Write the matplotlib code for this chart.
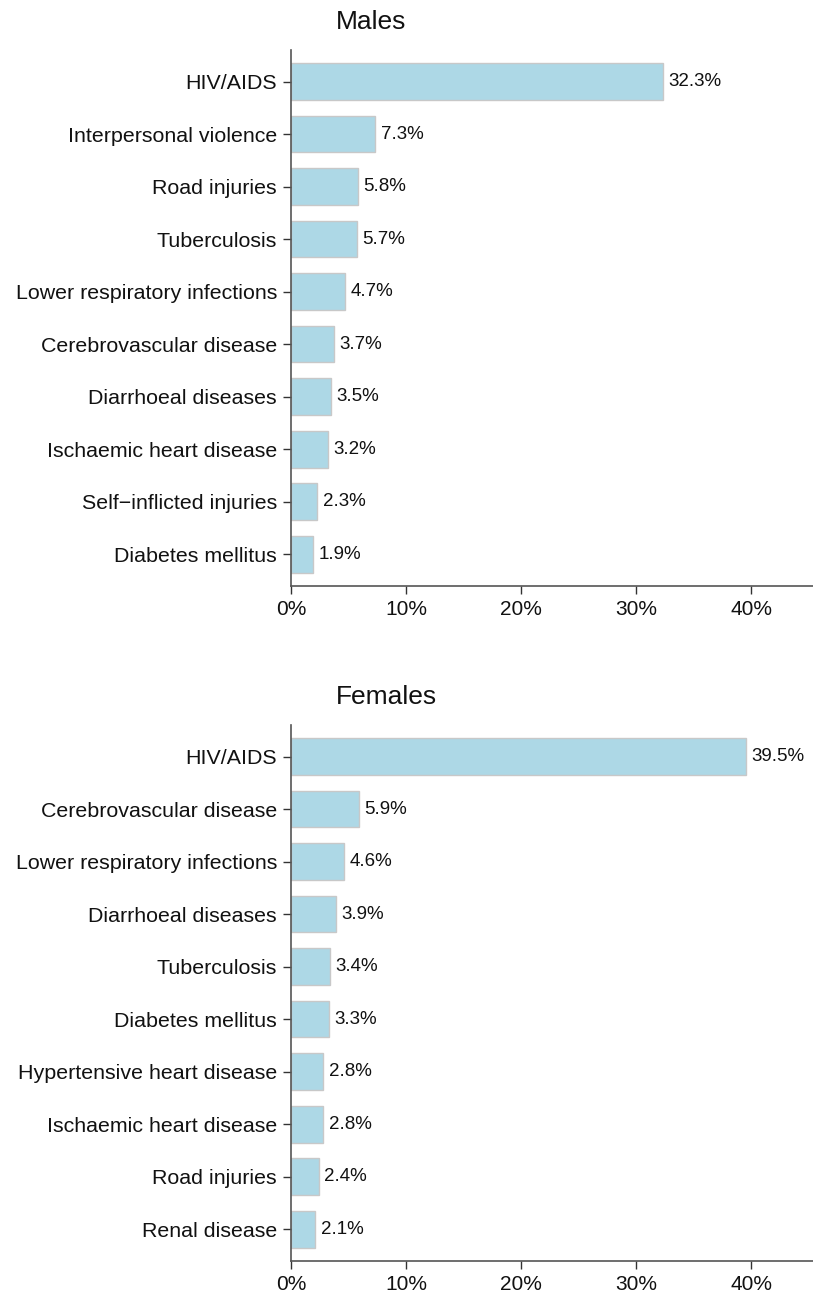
import matplotlib
matplotlib.use('Agg')
import matplotlib.pyplot as plt
from matplotlib.ticker import FuncFormatter

plt.rcParams['font.family'] = ['Liberation Sans', 'DejaVu Sans']

# data
male_causes = ['HIV/AIDS', 'Interpersonal violence', 'Road injuries', 'Tuberculosis',
               'Lower respiratory infections', 'Cerebrovascular disease',
               'Diarrhoeal diseases', 'Ischaemic heart disease',
               'Self\u2212inflicted injuries', 'Diabetes mellitus']
male_pct = [32.3, 7.3, 5.8, 5.7, 4.7, 3.7, 3.5, 3.2, 2.3, 1.9]

female_causes = ['HIV/AIDS', 'Cerebrovascular disease', 'Lower respiratory infections',
                 'Diarrhoeal diseases', 'Tuberculosis', 'Diabetes mellitus',
                 'Hypertensive heart disease', 'Ischaemic heart disease',
                 'Road injuries', 'Renal disease']
female_pct = [39.5, 5.9, 4.6, 3.9, 3.4, 3.3, 2.8, 2.8, 2.4, 2.1]

x_ticks = [0, 10, 20, 30, 40]

W, H = 813, 1294
fig = plt.figure(figsize=(W / 100, H / 100), dpi=100)


def draw_panel(rect, title, title_y, causes, values):
    ax = fig.add_axes(rect)
    pos = list(range(len(causes)))
    ax.barh(pos, values, height=0.7, color='#ADD8E6', edgecolor='#C8C8C8', linewidth=1)
    for p, v in zip(pos, values):
        ax.annotate(f'{v:.1f}%', (v, p), xytext=(4, 0), textcoords='offset points',
                    ha='left', va='center', fontsize=13.5, color='#111111')
    ax.set_yticks(pos)
    ax.set_yticklabels(causes, fontsize=15.4, color='#111111')
    ax.set_ylim(len(causes) - 0.4, -0.6)
    ax.set_xlim(0, 45.35)
    ax.set_xticks(x_ticks)
    ax.xaxis.set_major_formatter(FuncFormatter(lambda v, _: f'{v:.0f}%'))
    ax.tick_params(axis='x', labelsize=15, labelcolor='#111111', length=6, width=1,
                   color='#333333', pad=4)
    ax.tick_params(axis='y', length=6, width=1, color='#333333', pad=4)
    for s in ['top', 'right']:
        ax.spines[s].set_visible(False)
    for s in ['left', 'bottom']:
        ax.spines[s].set_color('#555555')
        ax.spines[s].set_linewidth(1.2)
    fig.text(336 / W, title_y, title, ha='left', va='center', fontsize=19, color='#111111')
    return ax


draw_panel([291 / W, 1 - 585.7 / H, 1 - 291 / W, 535.7 / H], 'Males', 1 - 21.7 / H,
           male_causes, male_pct)
draw_panel([291 / W, 1 - 1260.7 / H, 1 - 291 / W, 535.7 / H], 'Females', 1 - 696.7 / H,
           female_causes, female_pct)

fig.savefig('out.png', dpi=100)
